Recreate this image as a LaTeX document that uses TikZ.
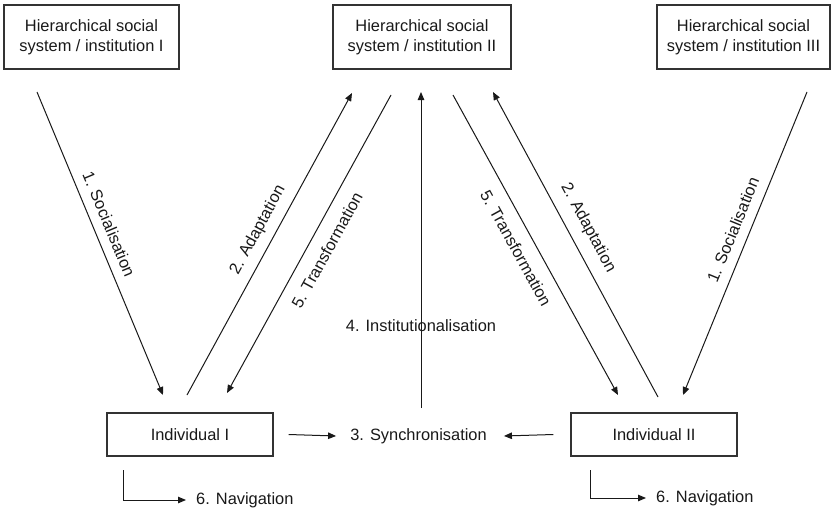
\documentclass[tikz,border=0pt]{standalone}
\usepackage{fontspec}
\setmainfont{Liberation Sans}
\usetikzlibrary{arrows.meta}
\begin{document}
\begin{tikzpicture}[x=1pt,y=-1pt,
  every node/.style={font=\fontsize{16.4}{20}\selectfont, text=black!90},
  box/.style={draw=black!80, line width=1.2pt, align=center, inner sep=0pt},
  arr/.style={draw=black!90, line width=1pt, -{Triangle[length=8pt,width=6.5pt]}},
  lbl/.style={inner sep=0pt}]
\useasboundingbox[fill=white] (0,0) rectangle (832,511);

% institutions
\node[box, minimum width=175pt, minimum height=64pt] (inst1) at (91.5,37)
  {Hierarchical social\\system / institution I};
\node[box, minimum width=178pt, minimum height=64pt] (inst2) at (422,37)
  {Hierarchical social\\system / institution II};
\node[box, minimum width=173pt, minimum height=64pt] (inst3) at (743.5,37)
  {Hierarchical social\\system / institution III};

% individuals
\node[box, minimum width=166pt, minimum height=43pt] (ind1) at (190,434.5) {Individual I};
\node[box, minimum width=166pt, minimum height=43pt] (ind2) at (654,434.5) {Individual II};

% synchronisation
\node[lbl] (sync) at (418.5,436) {3. Synchronisation};
\draw[arr] ([xshift=15pt]ind1.east) -- ([xshift=-14pt]sync.west);
\draw[arr] ([xshift=-17pt]ind2.west) -- ([xshift=17pt]sync.east);

% institutionalisation
\coordinate (i4a) at (421,408);
\coordinate (i4b) at (421,92);
\draw[arr] (i4a) -- (i4b);
\node[lbl] (i4t) at (421,326) {4. Institutionalisation};

% left side
\coordinate (s1a) at (37,92);   \coordinate (s1b) at (163,395);
\draw[arr] (s1a) -- (s1b);
\node[lbl, rotate=-67.4] (s1t) at (109,224) {1. Socialisation};

\coordinate (a2a) at (187,395); \coordinate (a2b) at (352,93);
\draw[arr] (a2a) -- (a2b);
\node[lbl, rotate=61.4] (a2t) at (258,230) {2. Adaptation};

\coordinate (t5a) at (391,95);  \coordinate (t5b) at (227,393);
\draw[arr] (t5a) -- (t5b);
\node[lbl, rotate=61.2] (t5t) at (327,250) {5. Transformation};

% right side
\coordinate (rt5a) at (453,95); \coordinate (rt5b) at (618,395);
\draw[arr] (rt5a) -- (rt5b);
\node[lbl, rotate=-61.2] (rt5t) at (516,248) {5. Transformation};

\coordinate (ra2a) at (658,397); \coordinate (ra2b) at (493,92);
\draw[arr] (ra2a) -- (ra2b);
\node[lbl, rotate=-61.6] (ra2t) at (588,228) {2. Adaptation};

\coordinate (rs1a) at (807,92); \coordinate (rs1b) at (683,395);
\draw[arr] (rs1a) -- (rs1b);
\node[lbl, rotate=67.7] (rs1t) at (733,230) {1. Socialisation};

% navigation
\coordinate (n1a) at (123,470);
\node[lbl, anchor=west] (nav1) at (196,500) {6. Navigation};
\draw[arr] (n1a) |- ([xshift=-10pt]nav1.west);

\coordinate (n2a) at (590,470);
\node[lbl, anchor=west] (nav2) at (656,498) {6. Navigation};
\draw[arr] (n2a) |- ([xshift=-10pt]nav2.west);
\end{tikzpicture}
\end{document}
